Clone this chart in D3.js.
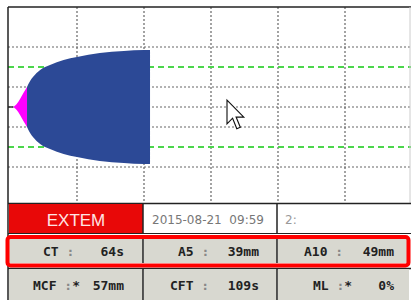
<!DOCTYPE html>
<html><head><meta charset="utf-8">
<script src="https://cdn.jsdelivr.net/npm/d3@7"></script>
<style>html,body{margin:0;padding:0;background:#fff;}svg{display:block;}</style>
</head><body>
<svg id="c" width="411" height="300"></svg>
<script>
// ---- data ----
const flatTime = [-0.3, 0.45];
const flatAmp = [0, 0];
const pinkTime = [0.45, 1.0, 1.5, 2.0, 2.54];
const pinkAmp = [0, 3, 8, 14, 20];
const blueTime = [2.54, 3.0, 3.43, 4.5, 5.97, 8, 10, 13.4, 17, 20, 20.9];
const blueAmp = [20, 26, 30, 37, 42, 47, 50, 54, 56, 57, 57];
const timeGrid = [10, 20, 30, 40, 50];
const dottedAmp = [60, 20, 0, -20, -60];
const greenAmp = [40, -40];
const assay = "EXTEM";
const dateText = "2015-08-21  09:59";
const channelText = "2:";
const row2Labels = ["CT", "A5", "A10"];
const row2Stars = ["", "", ""];
const row2Values = ["64s", "39mm", "49mm"];
const row3Labels = ["MCF", "CFT", "ML"];
const row3Stars = ["*", "", "*"];
const row3Values = ["57mm", "109s", "0%"];

const svg = d3.select("#c");
const x = d3.scaleLinear().domain([0, 60]).range([10, 412]);
const y = d3.scaleLinear().domain([-100, 100]).range([207, 7]);

svg.append("defs").append("clipPath").attr("id", "plot")
  .append("rect").attr("x", 8).attr("y", 7).attr("width", 403).attr("height", 196);

const g = svg.append("g").attr("clip-path", "url(#plot)");

// grid
g.selectAll(".vg").data(timeGrid).join("line")
  .attr("x1", d => x(d)).attr("x2", d => x(d)).attr("y1", 7).attr("y2", 203)
  .attr("stroke", "#666").attr("stroke-width", 1.2).attr("stroke-dasharray", "2,2");
g.selectAll(".hg").data(dottedAmp).join("line")
  .attr("x1", 8).attr("x2", 411).attr("y1", d => y(d)).attr("y2", d => y(d))
  .attr("stroke", "#666").attr("stroke-width", 1.2).attr("stroke-dasharray", "2,2");
g.selectAll(".gg").data(greenAmp).join("line")
  .attr("x1", 8).attr("x2", 411).attr("y1", d => y(d)).attr("y2", d => y(d))
  .attr("stroke", "#4cd64c").attr("stroke-width", 2.2).attr("stroke-dasharray", "6,4");

// trace
const area = d3.area().curve(d3.curveMonotoneX)
  .x(d => x(d[0])).y0(d => y(-d[1])).y1(d => y(d[1]));
g.append("path").datum(pinkTime.map((t, i) => [t, pinkAmp[i]]))
  .attr("d", area).attr("fill", "#ff00ff");
g.append("path").datum(blueTime.map((t, i) => [t, blueAmp[i]]))
  .attr("d", area).attr("fill", "#2c4996");
g.append("line").attr("x1", x(flatTime[0])).attr("x2", x(flatTime[1]))
  .attr("y1", y(flatAmp[0])).attr("y2", y(flatAmp[1]))
  .attr("stroke", "#333").attr("stroke-width", 1.5);

// frame
svg.append("line").attr("x1", 8).attr("x2", 411).attr("y1", 7).attr("y2", 7).attr("stroke", "#222").attr("stroke-width", 1.5);
svg.append("line").attr("x1", 8).attr("x2", 8).attr("y1", 7).attr("y2", 300).attr("stroke", "#222").attr("stroke-width", 1.5);
svg.append("line").attr("x1", 410).attr("x2", 410).attr("y1", 7).attr("y2", 203).attr("stroke", "#ccc").attr("stroke-width", 1);
svg.append("line").attr("x1", 8).attr("x2", 411).attr("y1", 203.5).attr("y2", 203.5).attr("stroke", "#222").attr("stroke-width", 1.5);

// cursor
svg.append("path")
  .attr("d", "M0,0 L0,17 L4,13 L7,20.5 L9.5,19.5 L6.5,12.2 L12,12.2 Z")
  .attr("transform", "translate(227,100) scale(1.4)")
  .attr("fill", "#fff").attr("stroke", "#111").attr("stroke-width", 0.8);

// panel row 1
const colX = [8, 143, 277, 409];
svg.append("rect").attr("x", 9).attr("y", 204).attr("width", 134).attr("height", 29).attr("fill", "#e80808");
svg.append("text").attr("x", 76).attr("y", 225.5).attr("text-anchor", "middle")
  .attr("font-family", "Liberation Sans, Arial, sans-serif").attr("font-size", 17)
  .attr("fill", "#ffe4e4").text(assay);
svg.append("text").attr("x", 152).attr("y", 223.5)
  .attr("font-family", "DejaVu Sans, sans-serif").attr("font-size", 12)
  .attr("fill", "#777").attr("xml:space", "preserve").text(dateText);
svg.append("text").attr("x", 285).attr("y", 223.5)
  .attr("font-family", "DejaVu Sans, sans-serif").attr("font-size", 12)
  .attr("fill", "#999").text(channelText);
[143, 277].forEach(v => svg.append("line").attr("x1", v).attr("x2", v).attr("y1", 204).attr("y2", 233).attr("stroke", "#222").attr("stroke-width", 1.5));
svg.append("line").attr("x1", 8).attr("x2", 411).attr("y1", 233.5).attr("y2", 233.5).attr("stroke", "#222").attr("stroke-width", 1.2);

// rows 2 and 3
function row(y0, h, labels, stars, values, ty) {
  for (let i = 0; i < 3; i++) {
    svg.append("rect").attr("x", colX[i] + 1).attr("y", y0).attr("width", colX[i + 1] - colX[i] - 1).attr("height", h).attr("fill", "#d8d8d0");
  }
  [143, 277].forEach(v => svg.append("line").attr("x1", v).attr("x2", v).attr("y1", y0).attr("y2", y0 + h).attr("stroke", "#222").attr("stroke-width", 1.5));
  const labelStart = [[43, 178, 304], [33, 170, 313]][ty];
  const valueEnd = [124, 259, 394];
  labels.forEach((l, i) => {
    const t = svg.append("text").attr("x", labelStart[i]).attr("y", y0 + h / 2 + 5)
      .attr("font-family", "DejaVu Sans Mono, monospace").attr("font-weight", "bold")
      .attr("font-size", 13).attr("fill", "#222").attr("xml:space", "preserve");
    t.append("tspan").text(l);
    t.append("tspan").attr("fill", "#888").text(" :");
    if (stars[i]) t.append("tspan").text(stars[i]);
    svg.append("text").attr("x", valueEnd[i]).attr("y", y0 + h / 2 + 5).attr("text-anchor", "end")
      .attr("font-family", "DejaVu Sans Mono, monospace").attr("font-weight", "bold")
      .attr("font-size", 13).attr("fill", "#222").text(values[i]);
  });
}
row(239, 24, row2Labels, row2Stars, row2Values, 0);
svg.append("line").attr("x1", 8).attr("x2", 411).attr("y1", 268.5).attr("y2", 268.5).attr("stroke", "#222").attr("stroke-width", 1.5);
row(269, 31, row3Labels, row3Stars, row3Values, 1);

// red highlight box
svg.append("rect").attr("x", 7.5).attr("y", 237).attr("width", 401).attr("height", 28.5).attr("rx", 3)
  .attr("fill", "none").attr("stroke", "#ff0000").attr("stroke-width", 4);
</script>
</body></html>
